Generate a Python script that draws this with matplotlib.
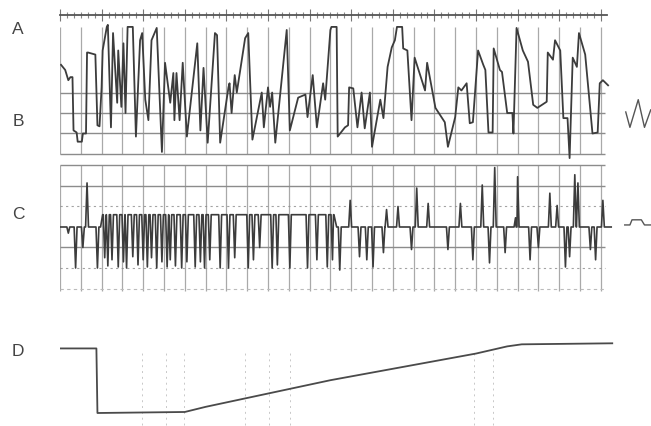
import numpy as np
import matplotlib
matplotlib.use("Agg")
import matplotlib.pyplot as plt
from matplotlib.ticker import FixedLocator

# ---------------- data (time in chart divisions, amplitude in divisions) ----------------
b_t = [0.05, 0.25, 0.4, 0.5, 0.6, 0.65, 0.8, 0.85, 1.05, 1.1, 1.25, 1.3, 1.35, 1.7, 1.8, 1.9,
       2.0, 2.05, 2.25, 2.3, 2.45, 2.55, 2.75, 2.8, 2.95, 3.05, 3.15, 3.25, 3.5, 3.65, 3.85, 3.95,
       4.1, 4.25, 4.4, 4.65, 4.9, 5.05, 5.3, 5.45, 5.5, 5.6, 5.75, 5.9, 6.1, 6.6, 6.75, 6.9, 7.1,
       7.45, 7.55, 7.7, 8.1, 8.15, 8.25, 8.4, 8.5, 8.9, 9.05, 9.25, 9.7, 9.8, 10.0, 10.1, 10.2,
       10.35, 10.9, 11.05, 11.45, 11.8, 11.9, 12.15, 12.35, 12.65, 12.75, 13.0, 13.05, 13.3, 13.35,
       13.7, 13.85, 13.9, 14.1, 14.3, 14.5, 14.65, 14.9, 15.0, 15.4, 15.55, 15.75, 15.95, 16.1,
       16.2, 16.45, 16.5, 16.7, 16.9, 17.05, 17.55, 17.65, 18.05, 18.5, 18.65, 19.0, 19.15, 19.3,
       19.55, 19.7, 19.85, 20.1, 20.35, 20.45, 20.6, 20.8, 20.85, 21.15, 21.25, 21.5, 21.75, 21.8,
       21.95, 22.25, 22.5, 22.75, 22.95, 23.4, 23.45, 23.7, 23.8, 24.05, 24.2, 24.4, 24.5, 24.65,
       24.85, 24.95, 25.25, 25.6, 25.85, 25.95, 26.1, 26.35]
b_v = [4.35, 4.1, 3.6, 3.75, 3.75, 1.15, 1.05, 0.6, 0.6, 1.0, 1.0, 4.95, 4.95, 4.85, 1.4, 1.35,
       3.25, 5.05, 6.2, 6.3, 1.3, 5.9, 2.5, 5.05, 2.3, 5.4, 2.0, 6.2, 6.2, 0.85, 5.55, 5.9,
       2.65, 1.65, 5.55, 6.15, 0.1, 4.45, 2.5, 3.95, 1.65, 3.95, 1.65, 4.45, 0.85, 5.4, 1.15, 4.2, 0.55,
       5.9, 5.8, 0.55, 3.25, 3.45, 2.0, 3.85, 3.0, 5.65, 5.9, 0.7, 3.0, 1.3, 3.25, 2.3, 3.0,
       0.55, 6.05, 1.15, 2.75, 2.9, 1.8, 3.85, 1.3, 3.45, 2.65, 6.05, 6.2, 6.2, 0.85,
       1.3, 1.4, 3.25, 3.2, 1.3, 3.0, 1.25, 3.0, 0.35, 2.65, 1.75, 4.25, 5.2, 5.55,
       6.2, 6.2, 5.15, 5.05, 1.65, 4.7, 3.1, 4.45, 2.25, 1.55, 0.35, 1.8, 3.25, 3.1,
       3.45, 1.5, 1.55, 5.05, 4.35, 4.1, 1.05, 1.05, 5.15, 4.1, 4.0, 2.0, 2.0, 1.0,
       6.15, 5.05, 4.5, 2.4, 2.25, 2.55, 4.95, 4.6, 5.55, 5.05, 1.75, 1.75, -0.2, 4.7,
       4.25, 5.9, 4.85, 1.0, 1.05, 3.45, 3.6, 3.35]

# calibration marks at the right of B and C
b_cal_t = [27.2, 27.4, 27.8, 28.1, 28.4]
b_cal_v = [2.05, 1.3, 2.65, 1.3, 2.15]
c_cal_t = [27.15, 27.4, 27.5, 27.95, 28.1, 28.4]
c_cal_v = [0.1, 0.1, 0.35, 0.35, 0.1, 0.1]

# trace C: resting level breakpoints and spikes
c_level_t = [0.0, 1.95, 2.05, 13.15, 13.3, 26.5]
c_level_v = [0.0, 0.0, 0.6, 0.6, 0.0, 0.0]
c_spike_t = [0.4, 0.75, 1.1, 1.3, 1.8,
             2.15, 2.3, 2.5, 2.8, 3.05, 3.2, 3.5, 3.75, 4.0, 4.2, 4.4, 4.65, 4.9, 5.15, 5.3,
             5.55, 5.85, 6.1, 6.5, 6.75, 6.95, 7.2, 7.7, 8.1, 8.4, 9.05, 9.3, 9.6, 10.2, 10.45,
             11.05, 11.9, 12.35, 12.85, 13.1,
             13.45, 13.95, 14.4, 14.75, 15.05, 15.55, 15.7, 16.25, 16.9, 17.15, 17.7, 18.65,
             19.25, 19.85, 20.3, 20.65, 20.9, 21.4, 21.9, 22.0, 22.6, 23.0, 23.55, 23.9, 24.3,
             24.5, 24.75, 24.9, 25.5, 25.75, 26.1]
c_spike_v = [-0.3, -2.0, -1.0, 2.15, -2.0,
             -1.5, -1.9, -1.6, -1.95, -1.7, -2.0, -1.45, -1.85, -1.6, -1.95, -1.5, -2.0, -1.7, -1.95, -1.6,
             -1.9, -2.0, -1.7, -1.95, -1.7, -2.0, -1.6, -2.0, -2.0, -1.5, -2.0, -1.6, -1.0, -2.0, -1.85,
             -2.0, -2.0, -1.6, -1.95, -1.6,
             -2.1, 1.3, -1.45, -1.6, -1.95, -1.25, 0.85, 1.0, -1.1, 1.9, 1.15, -1.1,
             1.15, -1.6, 2.05, -1.75, 2.9, -1.25, 0.45, 2.45, -1.6, -1.0, 1.65, 1.05, -1.95,
             -1.45, 2.55, 2.15, -1.1, -1.6, 1.3]

# trace D
d_t = [-0.1, 1.75, 1.8, 6.0, 7.0, 13.0, 20.0, 21.5, 22.2, 26.55]
d_v = [3.15, 3.15, 0.0, 0.05, 0.3, 1.6, 2.9, 3.25, 3.35, 3.4]

# faint background marks in D
d_marks = [3.95, 5.1, 5.95, 8.9, 10.05, 11.05, 19.9, 20.8]

labels = ["A", "B", "C", "D"]

# ---------------- drawing ----------------
W, H = 651, 426
fig = plt.figure(figsize=(W / 100, H / 100), dpi=100)
fig.patch.set_facecolor("white")

def px_axes(y_top, y_bot):
    return fig.add_axes([60 / W, 1 - y_bot / H, 591 / W, (y_bot - y_top) / H])

TRACE = "#3c3c3c"
GRID = "#8c8c8c"
XMAX = 591 / 20.8
A_END = 26.3

# A: event/time marker line
axA = px_axes(5, 15)
axA.set_xlim(0, XMAX)
axA.set_ylim(0, 1)
for s in ["top", "left", "right"]:
    axA.spines[s].set_visible(False)
axA.spines["bottom"].set_bounds(0, A_END)
axA.spines["bottom"].set_color("#555555")
axA.spines["bottom"].set_linewidth(1.3)
axA.xaxis.set_major_locator(FixedLocator(np.arange(0, A_END, 2)))
axA.xaxis.set_minor_locator(FixedLocator(np.arange(0, A_END, 1 / 3)))
axA.tick_params(axis="x", which="major", direction="inout", length=9, width=0.8,
                color="#777777", labelbottom=False)
axA.tick_params(axis="x", which="minor", direction="inout", length=5, width=0.8,
                color="#888888")
axA.set_yticks([])
axA.set_xlim(0, XMAX)
axA.patch.set_alpha(0)

# B
axB = px_axes(20, 160)
axB.set_xlim(0, XMAX)
axB.set_ylim(-0.293, 6.537)
axB.vlines(np.arange(0, 27), 0, 6.2, color=GRID, lw=0.9, alpha=0.75)
axB.hlines([0, 1, 2, 3], 0, 26.2, color=GRID, lw=1.0)
axB.plot(b_t, b_v, color=TRACE, lw=1.3, solid_joinstyle="round")
axB.plot(b_cal_t, b_cal_v, color="#555555", lw=1.0)
axB.axis("off")

# C
axC = px_axes(160, 295)
axC.set_xlim(0, XMAX)
axC.set_ylim(-3.317, 3.268)
axC.vlines(np.arange(0, 27), -3.1, 3.0, color=GRID, lw=0.9, alpha=0.75)
axC.hlines([3.0, 2.0, -1.0], 0, 26.2, color=GRID, lw=1.0)
axC.hlines([1.0, -2.0], 0, 26.2, color=GRID, lw=0.8, linestyles=(0, (2, 3)), alpha=0.8)
axC.hlines([-3.0], 0, 26.2, color="#bbbbbb", lw=0.8, linestyles=(0, (3, 3)))

# build C polyline from the resting level and the spikes
pts = []
for t, v in zip(c_level_t, c_level_v):
    pts.append((t, v))
w = 0.07
for t, a in zip(c_spike_t, c_spike_v):
    lvl = np.interp(t, c_level_t, c_level_v)
    pts += [(t - w, lvl), (t, a), (t + w, lvl)]
pts.sort(key=lambda p: p[0])
ct, cv = zip(*pts)
axC.plot(ct, cv, color=TRACE, lw=1.2)
axC.plot(c_cal_t, c_cal_v, color="#555555", lw=1.0)
axC.axis("off")

# D
axD = px_axes(330, 426)
axD.set_xlim(0, XMAX)
axD.set_ylim(-0.634, 4.049)
axD.vlines(d_marks, -0.6, 3.0, color="#c8c8c8", lw=0.7, linestyles=(0, (2, 4)))
axD.plot(d_t, d_v, color="#4a4a4a", lw=1.3)
axD.axis("off")

# panel letters
for lab, ypx in zip(labels, [30, 122, 215, 352]):
    fig.text(18 / W, 1 - ypx / H, lab, fontsize=12.5, color="#444444",
             family="Liberation Sans", ha="center", va="center")

fig.savefig("out.png", dpi=100, facecolor="white")
